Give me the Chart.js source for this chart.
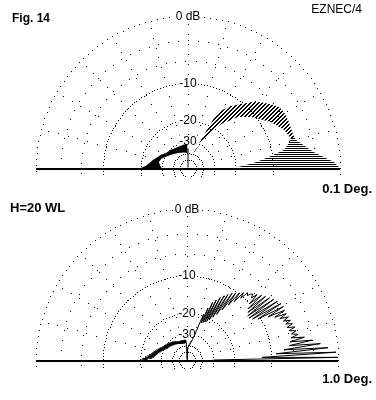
<!DOCTYPE html>
<html>
<head>
<meta charset="utf-8">
<script src="https://cdn.jsdelivr.net/npm/chart.js@4"></script>
<style>
  html, body { margin: 0; padding: 0; background: #fff; }
  canvas { display: block; }
</style>
</head>
<body>
<canvas id="plot01" width="376" height="200"></canvas>
<canvas id="plot10" width="376" height="200"></canvas>
<script>
// grid of the EZNEC elevation plot (ARRL log scale)
const ringDb = [0, -3, -6, -10, -20, -30, -40, -50];
const ringLabels = ['0 dB', '', '', '-10', '-20', '-30', '', ''];
const ringDotGap = [6, 10, 10, 3, 3, 3, 2, 2];
const rayDeg = [15, 30, 45, 60, 75, 90, 105, 120, 135, 150, 165];

// 0.1 deg plot: lobes too dense to trace, read as envelopes (elevation deg, dB)
const lowOuterDeg = [0, 2.4, 4.6, 7.3, 12.5, 14.5, 17.4];
const lowOuterDb = [0, -0.7, -1.9, -3.15, -4.75, -5.3, -5.5];
const lowInnerDeg = [16.2, 13, 10.6, 7.8, 4.3, 1.1, 0];
const lowInnerDb = [-6.0, -6.8, -7.6, -10.7, -14.3, -19, -19];

const mainOuterDeg = [16, 17.4, 21.2, 25.6, 30.3, 33.8, 37.6, 42.1, 46.3, 50.4, 55.3, 59.9, 62.5, 63.4, 65.1, 69.4];
const mainOuterDb = [-5.6, -5.5, -5.5, -5.4, -5.4, -5.6, -6.4, -7.5, -8.8, -10.4, -12.0, -14.2, -17.0, -21.0, -27.3, -37.5];
const mainInnerDeg = [69.4, 66, 60, 56.7, 52.5, 45.6, 39, 29, 21.6, 16];
const mainInnerDb = [-40, -34, -25, -20.5, -17.2, -13.0, -10.8, -8.1, -6.6, -6.0];

const backOuterDeg = [92, 100, 115.5, 133, 145.7, 154, 162.6, 167, 173, 177, 180];
const backOuterDb = [-32.3, -31.8, -32.2, -31, -29.9, -27.8, -26.0, -24.7, -23.3, -22, -20.1];
const backInnerDeg = [180, 175, 168, 160, 155, 140, 124, 105, 92];
const backInnerDb = [-30, -29, -28, -29, -30.5, -34, -36.6, -38.5, -39.7];

const zenithDeg = [90, 90];
const zenithDb = [-99, -35];

// 1.0 deg plot: one value per degree, 0..180
const stepDeg = 1;
const coarseDb = [
  -30, 0, -12, -0.2, -9, -1.1, -7.5, -2, -6.5, -3,
  -6.3, -4, -6, -4.8, -5.8, -5, -6, -5, -6.2, -5.2,
  -6.2, -5.3, -6.4, -5.4, -6.8, -5.5, -7.5, -5.5, -8.5, -5.4,
  -10.5, -5.5, -11.5, -5.8, -12, -6.1, -12, -6.5, -11.5, -6.9,
  -11, -7.3, -10, -7.8, -9, -8.3, -8.6, -9.2, -8.8, -10.5,
  -9.3, -12, -9.8, -13.5, -10.3, -15.5, -10.8, -17.5, -11.5, -19,
  -12.2, -20.5, -13, -21.5, -14, -22, -15, -22.5, -17, -23,
  -19.5, -23, -27, -30, -32, -33.5, -35, -36, -37, -38,
  -39, -40, -40.5, -41, -41.5, -42, -42.5, -43, -43, -43,
  -99, -42, -39, -36.5, -35, -37, -34.5, -37, -34.5, -37.5,
  -34.5, -37.5, -34.5, -37, -34.5, -37.5, -34.5, -37.5, -34.5, -37.5,
  -34.5, -37, -34.5, -37, -34.5, -36.5, -34, -36.5, -34, -36,
  -33.5, -36, -33, -35.5, -33, -35.5, -32.5, -35, -32, -35,
  -32, -34.5, -31.5, -34.5, -31.5, -34, -31, -34, -31, -33.5,
  -30.5, -33.5, -30.5, -33, -30, -33, -30, -32.5, -29.5, -32.5,
  -29.5, -32, -29, -31.5, -28.5, -31, -28, -30.5, -27.5, -30,
  -27, -29.5, -26.5, -29, -26, -28.5, -25.5, -28, -25, -27.5,
  -24.5, -27, -23.5, -26.5, -23, -26, -22, -25, -21, -23,
  -20.5
];

const FONT = '"Liberation Sans", Arial, sans-serif';

// ARRL log scale: radius shrinks by 0.89 every 2 dB
function radius(db) {
  return Math.pow(0.89, -db / 2);
}

function toPoints(degs, dbs) {
  return degs.map(function (d, i) {
    const a = d * Math.PI / 180;
    const r = radius(dbs[i]);
    return { x: r * Math.cos(a), y: r * Math.sin(a) };
  });
}

function hatch(kind) {
  const c = document.createElement('canvas');
  c.width = 4; c.height = 4;
  const g = c.getContext('2d');
  g.fillStyle = '#000';
  for (let px = 0; px < 4; px++) {
    for (let py = 0; py < 4; py++) {
      if (kind == 'diag' && (px + py) % 4 < 2) g.fillRect(px, py, 1, 1);
      if (kind == 'flat' && py % 2 == 0) g.fillRect(px, py, 1, 1);
    }
  }
  return g.createPattern(c, 'repeat');
}

const ezGrid = {
  id: 'ezGrid',
  beforeDatasetsDraw(chart) {
    const ctx = chart.ctx;
    const x = chart.scales.x, y = chart.scales.y;
    const cx = x.getPixelForValue(0), cy = y.getPixelForValue(0);
    const R = x.getPixelForValue(1) - cx;
    ctx.save();
    ctx.fillStyle = '#000';
    ringDb.forEach(function (db, i) {
      const rr = R * radius(db);
      const n = Math.round(2 * Math.PI * rr / ringDotGap[i]);
      for (let k = 0; k < n; k++) {
        const a = 2 * Math.PI * k / n;
        const px = cx + rr * Math.cos(a), py = cy - rr * Math.sin(a);
        if (py <= cy + 8) ctx.fillRect(Math.round(px), Math.round(py), 1, 1);
      }
    });
    const r0 = R * radius(-30);
    rayDeg.forEach(function (d) {
      const a = d * Math.PI / 180;
      for (let r = r0 + 8; r < R - 4; r += 10) {
        ctx.fillRect(Math.round(cx + r * Math.cos(a)), Math.round(cy - r * Math.sin(a)), 1, 1);
      }
    });
    ctx.font = '12px ' + FONT;
    ctx.textAlign = 'center';
    ctx.textBaseline = 'middle';
    ringDb.forEach(function (db, i) {
      if (!ringLabels[i]) return;
      const py = cy - R * radius(db);
      const w = ctx.measureText(ringLabels[i]).width;
      ctx.fillStyle = '#fff';
      ctx.fillRect(cx - w / 2 - 1, py - 6, w + 2, 12);
      ctx.fillStyle = '#000';
      ctx.fillText(ringLabels[i], cx, py + 0.5);
    });
    ctx.restore();
  },
  afterDatasetsDraw(chart) {
    const ctx = chart.ctx;
    const x = chart.scales.x, y = chart.scales.y;
    const cx = x.getPixelForValue(0), cy = y.getPixelForValue(0);
    const R = x.getPixelForValue(1) - cx;
    ctx.save();
    ctx.fillStyle = '#000';
    ctx.fillRect(cx - R, Math.round(cy), 2 * R, 2);
    ctx.restore();
  },
  afterDraw(chart, args, opts) {
    const ctx = chart.ctx;
    ctx.save();
    ctx.fillStyle = '#000';
    ctx.textBaseline = 'alphabetic';
    (opts.captions || []).forEach(function (c) {
      ctx.font = c.font + ' ' + FONT;
      ctx.textAlign = c.align;
      ctx.fillText(c.text, c.x, c.y);
    });
    ctx.restore();
  }
};

function makeOptions(padLeft, padRight, padTop, R, captions) {
  return {
    responsive: false,
    animation: false,
    events: [],
    layout: { padding: { left: padLeft, right: padRight, top: padTop, bottom: 0 } },
    plugins: {
      legend: { display: false },
      tooltip: { enabled: false },
      ezGrid: { captions: captions }
    },
    elements: { point: { radius: 0 }, line: { tension: 0 } },
    scales: {
      x: { type: 'linear', min: -1, max: 1, display: false },
      y: { type: 'linear', min: 1 - (200 - padTop) / R, max: 1, display: false }
    }
  };
}

function region(outerDeg, outerDb, innerDeg, innerDb, fillStyle) {
  return {
    data: toPoints(outerDeg, outerDb).concat(toPoints(innerDeg, innerDb)),
    showLine: true,
    fill: 'shape',
    backgroundColor: fillStyle,
    borderColor: fillStyle,
    borderWidth: 0
  };
}

document.addEventListener('DOMContentLoaded', function () {

  new Chart(document.getElementById('plot01'), {
    type: 'scatter',
    data: {
      datasets: [
        {
          data: toPoints(zenithDeg, zenithDb),
          showLine: true,
          borderColor: '#000',
          borderWidth: 1
        },
        region(backOuterDeg, backOuterDb, backInnerDeg, backInnerDb, '#000'),
        region(mainOuterDeg, mainOuterDb, mainInnerDeg, mainInnerDb, hatch('diag')),
        region(lowOuterDeg, lowOuterDb, lowInnerDeg, lowInnerDb, hatch('flat'))
      ]
    },
    options: makeOptions(36, 36, 16, 152, [
      { text: 'Fig. 14', x: 12, y: 22, align: 'left', font: 'bold 12px' },
      { text: 'EZNEC/4', x: 362, y: 13, align: 'right', font: '12px' },
      { text: '0.1 Deg.', x: 372, y: 193, align: 'right', font: 'bold 13px' }
    ]),
    plugins: [ezGrid]
  });

  const coarseDeg = coarseDb.map(function (v, i) { return i * stepDeg; });

  new Chart(document.getElementById('plot10'), {
    type: 'scatter',
    data: {
      datasets: [{
        data: toPoints(coarseDeg, coarseDb),
        showLine: true,
        borderColor: '#000',
        borderWidth: 1
      }]
    },
    options: makeOptions(36, 38, 9, 151, [
      { text: 'H=20 WL', x: 10, y: 12, align: 'left', font: 'bold 13px' },
      { text: '1.0 Deg.', x: 372, y: 183, align: 'right', font: 'bold 13px' }
    ]),
    plugins: [ezGrid]
  });
});
</script>
</body>
</html>
